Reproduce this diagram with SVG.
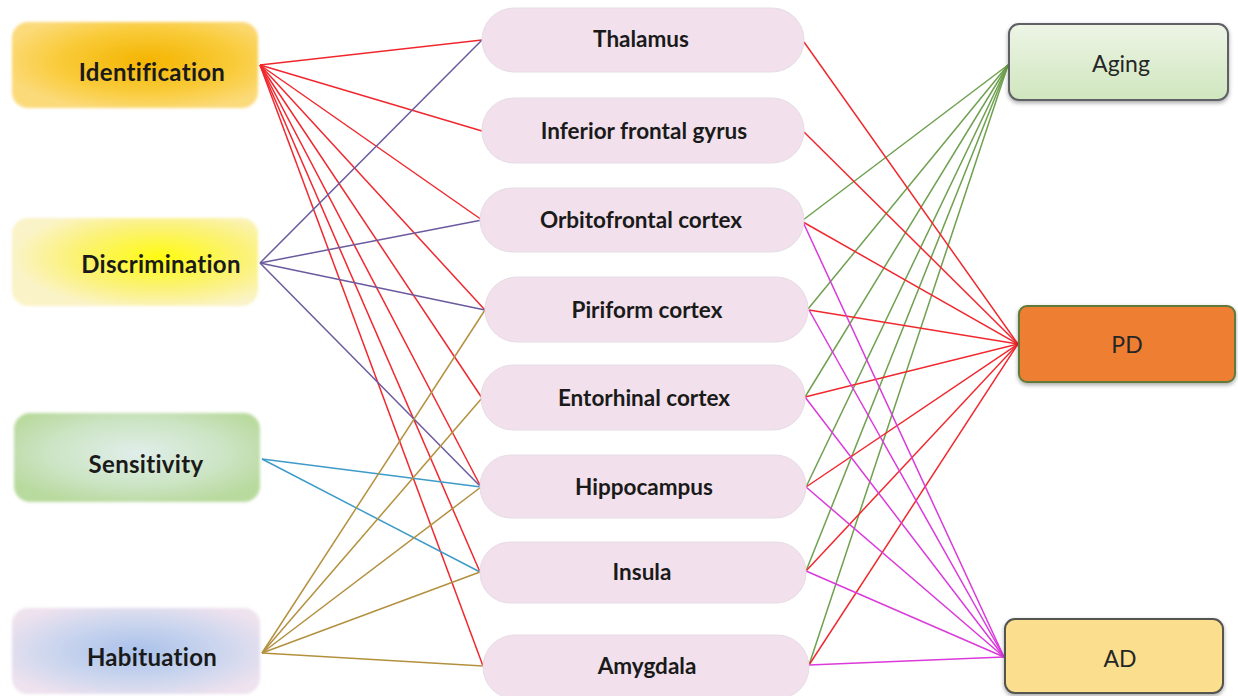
<svg xmlns="http://www.w3.org/2000/svg" width="1238" height="696" viewBox="0 0 1238 696">
<style>
.lbl{font-family:Lato,"Liberation Sans",sans-serif;font-weight:bold;font-size:22.5px;fill:#1a1a1a;text-anchor:middle}
.llbl{font-size:24px;letter-spacing:0.3px}
.rlbl{font-family:Lato,"Liberation Sans",sans-serif;font-size:23px;fill:#262626;text-anchor:middle}
.pill{fill:#F2E1EC;stroke:#E6DCE4;stroke-width:1}
.e{fill:none;stroke-width:1.5}
.red{stroke:#F0282E}
.pur{stroke:#6B5A9E}
.blu{stroke:#3E9BC8}
.hab{stroke:#B3903E}
.grn{stroke:#6EA04E}
.mag{stroke:#DA3ADA}
</style>
<defs>
<radialGradient id="gId" cx="0.55" cy="0.45" r="0.6">
<stop offset="0" stop-color="#F4B400"/><stop offset="0.6" stop-color="#F9CB3A"/><stop offset="1" stop-color="#FBDA7A"/>
</radialGradient>
<radialGradient id="gDi" cx="0.6" cy="0.45" r="0.6">
<stop offset="0" stop-color="#FFFB10"/><stop offset="0.6" stop-color="#FBF27A"/><stop offset="1" stop-color="#FAF3C8"/>
</radialGradient>
<radialGradient id="gSe" cx="0.5" cy="0.45" r="0.6">
<stop offset="0" stop-color="#E0EEEA"/><stop offset="0.6" stop-color="#CCE4C4"/><stop offset="1" stop-color="#B8DA9E"/>
</radialGradient>
<radialGradient id="gHa" cx="0.5" cy="0.5" r="0.6">
<stop offset="0" stop-color="#A9C1EA"/><stop offset="0.6" stop-color="#CED7EE"/><stop offset="1" stop-color="#EEE2EE"/>
</radialGradient>
<linearGradient id="gAg" x1="0" y1="0" x2="0" y2="1">
<stop offset="0" stop-color="#EEF5E6"/><stop offset="1" stop-color="#CFE6BE"/>
</linearGradient>
<filter id="soft" x="-5%" y="-10%" width="110%" height="120%"><feGaussianBlur stdDeviation="1.5"/></filter>
<filter id="sh" x="-10%" y="-20%" width="120%" height="150%"><feDropShadow dx="0" dy="2" stdDeviation="2" flood-color="#000" flood-opacity="0.35"/></filter>
</defs>
<rect width="1238" height="696" fill="#fff"/>

<g id="connectors">
<g class="e red">
<line x1="260" y1="65" x2="482" y2="40"/>
<line x1="260" y1="65" x2="482" y2="131"/>
<line x1="260" y1="65" x2="482" y2="220"/>
<line x1="260" y1="65" x2="485" y2="310"/>
<line x1="260" y1="65" x2="482" y2="398"/>
<line x1="260" y1="65" x2="481" y2="487"/>
<line x1="260" y1="65" x2="480" y2="572"/>
<line x1="260" y1="65" x2="483" y2="666"/>
</g>
<g class="e pur">
<line x1="260" y1="263" x2="482" y2="40"/>
<line x1="260" y1="263" x2="482" y2="220"/>
<line x1="260" y1="263" x2="485" y2="310"/>
<line x1="260" y1="263" x2="481" y2="487"/>
</g>
<g class="e blu">
<line x1="262" y1="459" x2="481" y2="487"/>
<line x1="262" y1="459" x2="480" y2="572"/>
</g>
<g class="e hab">
<line x1="262" y1="653" x2="485" y2="310"/>
<line x1="262" y1="653" x2="482" y2="398"/>
<line x1="262" y1="653" x2="481" y2="487"/>
<line x1="262" y1="653" x2="480" y2="572"/>
<line x1="262" y1="653" x2="483" y2="666"/>
</g>
<g class="e grn">
<line x1="1008" y1="65" x2="803" y2="220"/>
<line x1="1008" y1="65" x2="808" y2="309"/>
<line x1="1008" y1="65" x2="805" y2="397"/>
<line x1="1008" y1="65" x2="806" y2="487"/>
<line x1="1008" y1="65" x2="806" y2="571"/>
<line x1="1008" y1="65" x2="809" y2="665"/>
</g>
<g class="e red">
<line x1="1018" y1="344" x2="804" y2="42"/>
<line x1="1018" y1="344" x2="804" y2="132"/>
<line x1="1018" y1="344" x2="803" y2="222"/>
<line x1="1018" y1="344" x2="809" y2="310"/>
<line x1="1018" y1="344" x2="805" y2="397"/>
<line x1="1018" y1="344" x2="806" y2="487"/>
<line x1="1018" y1="344" x2="806" y2="571"/>
<line x1="1018" y1="344" x2="809" y2="665"/>
</g>
<g class="e mag">
<line x1="1004" y1="657" x2="803" y2="222"/>
<line x1="1004" y1="657" x2="809" y2="310"/>
<line x1="1004" y1="657" x2="805" y2="397"/>
<line x1="1004" y1="657" x2="806" y2="487"/>
<line x1="1004" y1="657" x2="806" y2="571"/>
<line x1="1004" y1="657" x2="809" y2="665"/>
</g>
</g>

<g id="identification">
<rect x="12" y="22" width="246" height="86" rx="16" fill="url(#gId)" filter="url(#soft)"/>
<text class="lbl llbl" x="152" y="81">Identification</text>
</g>
<g id="discrimination">
<rect x="12" y="218" width="246" height="88" rx="16" fill="url(#gDi)" filter="url(#soft)"/>
<text class="lbl llbl" x="161" y="273">Discrimination</text>
</g>
<g id="sensitivity">
<rect x="14" y="413" width="246" height="89" rx="16" fill="url(#gSe)" filter="url(#soft)"/>
<text class="lbl llbl" x="146" y="473">Sensitivity</text>
</g>
<g id="habituation">
<rect x="12" y="608" width="248" height="86" rx="16" fill="url(#gHa)" filter="url(#soft)"/>
<text class="lbl llbl" x="152" y="666">Habituation</text>
</g>

<g id="thalamus"><rect class="pill" x="482" y="8" width="322" height="64" rx="32"/><text class="lbl" x="641" y="47">Thalamus</text></g>
<g id="ifg"><rect class="pill" x="482" y="98" width="322" height="65" rx="32"/><text class="lbl" x="644" y="139">Inferior frontal gyrus</text></g>
<g id="ofc"><rect class="pill" x="480" y="188" width="324" height="64" rx="32"/><text class="lbl" x="641" y="228">Orbitofrontal cortex</text></g>
<g id="piriform"><rect class="pill" x="485" y="277" width="323" height="65" rx="32"/><text class="lbl" x="647" y="318">Piriform cortex</text></g>
<g id="entorhinal"><rect class="pill" x="481" y="365" width="324" height="65" rx="32"/><text class="lbl" x="644" y="406">Entorhinal cortex</text></g>
<g id="hippocampus"><rect class="pill" x="480" y="455" width="326" height="63" rx="31"/><text class="lbl" x="644" y="495">Hippocampus</text></g>
<g id="insula"><rect class="pill" x="480" y="542" width="326" height="61" rx="30"/><text class="lbl" x="642" y="580">Insula</text></g>
<g id="amygdala"><rect class="pill" x="483" y="635" width="326" height="64" rx="32"/><text class="lbl" x="647" y="674">Amygdala</text></g>

<g id="aging">
<rect x="1009" y="24" width="219" height="76" rx="10" fill="url(#gAg)" stroke="#5E5E66" stroke-width="2" filter="url(#sh)"/>
<text class="rlbl" x="1121" y="72">Aging</text>
</g>
<g id="pd">
<rect x="1019" y="306" width="216" height="76" rx="8" fill="#EE7E30" stroke="#5E7A3A" stroke-width="2" filter="url(#sh)"/>
<text class="rlbl" x="1127" y="353">PD</text>
</g>
<g id="ad">
<rect x="1005" y="619" width="218" height="74" rx="10" fill="#FBDE8E" stroke="#55554F" stroke-width="2" filter="url(#sh)"/>
<text class="rlbl" x="1120" y="667">AD</text>
</g>
</svg>
